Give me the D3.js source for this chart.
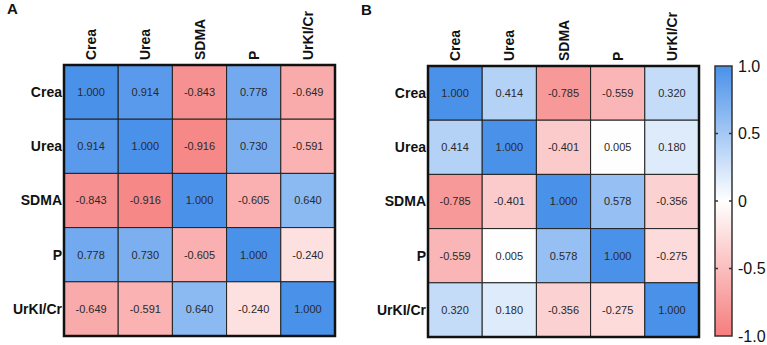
<!DOCTYPE html>
<html>
<head>
<meta charset="utf-8">
<style>
  body { margin: 0; padding: 0; background: #fff; }
  svg { font-family: "Liberation Sans", Arial, sans-serif; }
</style>
<script src="https://cdnjs.cloudflare.com/ajax/libs/d3/7.8.5/d3.min.js"></script>
</head>
<body>
<svg width="767" height="345"></svg>
<script>
  const vars = ['Crea', 'Urea', 'SDMA', 'P', 'UrKI/Cr'];
  const matrixA = [
    [1.000, 0.914, -0.843, 0.778, -0.649],
    [0.914, 1.000, -0.916, 0.730, -0.591],
    [-0.843, -0.916, 1.000, -0.605, 0.640],
    [0.778, 0.730, -0.605, 1.000, -0.240],
    [-0.649, -0.591, 0.640, -0.240, 1.000]
  ];
  const matrixB = [
    [1.000, 0.414, -0.785, -0.559, 0.320],
    [0.414, 1.000, -0.401, 0.005, 0.180],
    [-0.785, -0.401, 1.000, 0.578, -0.356],
    [-0.559, 0.005, 0.578, 1.000, -0.275],
    [0.320, 0.180, -0.356, -0.275, 1.000]
  ];
  const barTicks = [1.0, 0.5, 0, -0.5, -1.0];
  const barTickLabels = ['1.0', '0.5', '0', '-0.5', '-1.0'];

  const svg = d3.select('svg');
  const color = d3.scaleLinear()
    .domain([-1, 0, 1])
    .range(['#f67d7d', '#ffffff', '#4a91ea']);

  function drawPanel(matrix, x0, y0, letter, lx, ly) {
    const size = 271;
    const x = d3.scaleBand().domain(vars).range([x0, x0 + size]);
    const y = d3.scaleBand().domain(vars).range([y0, y0 + size]);
    const g = svg.append('g');

    const cells = [];
    matrix.forEach((row, i) => row.forEach((v, j) => cells.push({ r: vars[i], c: vars[j], v })));

    g.selectAll('rect.cell').data(cells).enter().append('rect')
      .attr('class', 'cell')
      .attr('x', d => x(d.c))
      .attr('y', d => y(d.r))
      .attr('width', x.bandwidth())
      .attr('height', y.bandwidth())
      .attr('fill', d => color(d.v))
      .attr('stroke', '#222')
      .attr('stroke-width', 1);

    g.selectAll('text.val').data(cells).enter().append('text')
      .attr('class', 'val')
      .attr('x', d => x(d.c) + x.bandwidth() / 2)
      .attr('y', d => y(d.r) + y.bandwidth() / 2)
      .attr('dy', '0.35em')
      .attr('text-anchor', 'middle')
      .attr('font-size', 11)
      .attr('fill', '#2a2a2a')
      .text(d => d.v.toFixed(3));

    g.append('rect')
      .attr('x', x0).attr('y', y0)
      .attr('width', size).attr('height', size)
      .attr('fill', 'none').attr('stroke', '#111').attr('stroke-width', 2.5);

    // row labels
    g.selectAll('text.row').data(vars).enter().append('text')
      .attr('class', 'row')
      .attr('x', x0 - 2)
      .attr('y', d => y(d) + y.bandwidth() / 2)
      .attr('dy', '0.35em')
      .attr('text-anchor', 'end')
      .attr('font-weight', 'bold')
      .attr('font-size', 14)
      .attr('fill', '#111')
      .text(d => d);

    // column labels
    g.selectAll('text.col').data(vars).enter().append('text')
      .attr('class', 'col')
      .attr('transform', d => `translate(${x(d) + x.bandwidth() / 2 + 5},${y0 - 5}) rotate(-90)`)
      .attr('text-anchor', 'start')
      .attr('font-weight', 'bold')
      .attr('font-size', 14)
      .attr('fill', '#111')
      .text(d => d);

    svg.append('text')
      .attr('x', lx).attr('y', ly)
      .attr('font-weight', 'bold')
      .attr('font-size', 15)
      .attr('fill', '#111')
      .text(letter);
  }

  drawPanel(matrixA, 64, 65, 'A', 7, 14);
  drawPanel(matrixB, 428, 66, 'B', 361, 15);

  // colour bar
  const bx = 715, bw = 17;
  const by = d3.scaleLinear().domain([-1, 1]).range([336, 66]);
  const grad = svg.append('defs').append('linearGradient')
    .attr('id', 'cbar').attr('x1', 0).attr('y1', 1).attr('x2', 0).attr('y2', 0);
  grad.selectAll('stop').data(d3.range(-1, 1.001, 0.1)).enter().append('stop')
    .attr('offset', d => (d + 1) / 2)
    .attr('stop-color', d => color(d));

  svg.append('rect')
    .attr('x', bx).attr('y', by(1))
    .attr('width', bw).attr('height', by(-1) - by(1))
    .attr('fill', 'url(#cbar)')
    .attr('stroke', '#333').attr('stroke-width', 1.5);

  const axis = d3.axisRight(by).tickValues(barTicks)
    .tickFormat((d, i) => barTickLabels[i]).tickSize(0).tickPadding(6);
  const ag = svg.append('g').attr('transform', `translate(${bx + bw},0)`).call(axis);
  ag.select('.domain').remove();
  ag.selectAll('text').attr('font-size', 16).attr('fill', '#111')
    .attr('font-family', '"Liberation Sans", Arial, sans-serif');

  // small tick marks on both edges of the bar
  const inner = barTicks.filter(t => Math.abs(t) < 1);
  svg.selectAll('line.lt').data(inner).enter().append('line')
    .attr('x1', bx).attr('x2', bx + 3)
    .attr('y1', d => by(d)).attr('y2', d => by(d))
    .attr('stroke', '#333').attr('stroke-width', 1.5);
  svg.selectAll('line.rt').data(inner).enter().append('line')
    .attr('x1', bx + bw - 3).attr('x2', bx + bw)
    .attr('y1', d => by(d)).attr('y2', d => by(d))
    .attr('stroke', '#333').attr('stroke-width', 1.5);
</script>
</body>
</html>
